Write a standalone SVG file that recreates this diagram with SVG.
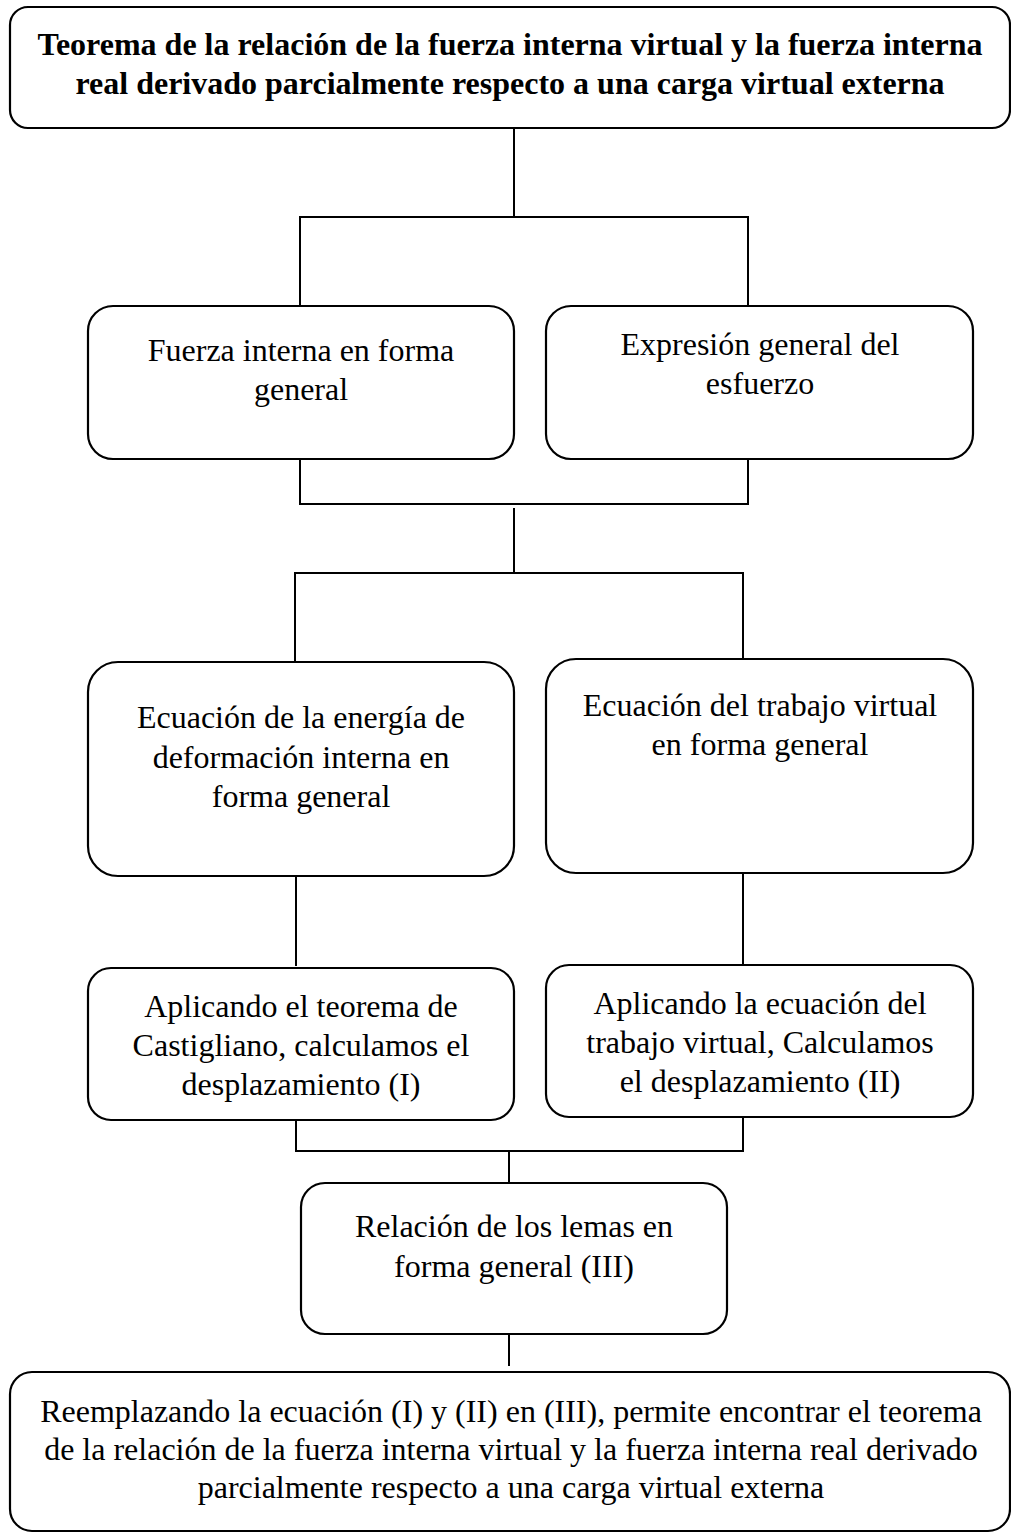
<svg xmlns="http://www.w3.org/2000/svg" width="1011" height="1533" viewBox="0 0 1011 1533">
<style>
.box{fill:#fff;stroke:#000;stroke-width:2.2}
.ln{fill:none;stroke:#000;stroke-width:2;stroke-linecap:square}
text{font-family:"Liberation Serif","Times New Roman",serif;font-size:32px;fill:#000;text-anchor:middle}
.b{font-weight:bold}
</style>
<rect width="1011" height="1533" fill="#fff"/>
<g id="connectors">
<path class="ln" d="M514 128V217M300 217H748M300 217V306M748 217V306"/>
<path class="ln" d="M300 459V504M748 459V504M300 504H748"/>
<path class="ln" d="M514 509V573M295 573H743M295 573V662M743 573V659"/>
<path class="ln" d="M296 876V965M743 873V963"/>
<path class="ln" d="M296 1120V1151M743 1117V1151M296 1151H743M509 1151V1183"/>
<path class="ln" d="M509 1334V1365"/>
</g>
<g id="title">
<rect class="box" x="10" y="7" width="1000" height="121" rx="18"/>
<text class="b" x="510" y="55">Teorema de la relación de la fuerza interna virtual y la fuerza interna</text>
<text class="b" x="510" y="94">real derivado parcialmente respecto a una carga virtual externa</text>
</g>
<g id="fuerza">
<rect class="box" x="88" y="306" width="426" height="153" rx="25"/>
<text x="301" y="361">Fuerza interna en forma</text>
<text x="301" y="400">general</text>
</g>
<g id="expresion">
<rect class="box" x="546" y="306" width="427" height="153" rx="25"/>
<text x="760" y="355">Expresión general del</text>
<text x="760" y="394">esfuerzo</text>
</g>
<g id="energia">
<rect class="box" x="88" y="662" width="426" height="214" rx="30"/>
<text x="301" y="728">Ecuación de la energía de</text>
<text x="301" y="768">deformación interna en</text>
<text x="301" y="807">forma general</text>
</g>
<g id="trabajo">
<rect class="box" x="546" y="659" width="427" height="214" rx="30"/>
<text x="760" y="716">Ecuación del trabajo virtual</text>
<text x="760" y="755">en forma general</text>
</g>
<g id="castigliano">
<rect class="box" x="88" y="968" width="426" height="152" rx="23"/>
<text x="301" y="1017">Aplicando el teorema de</text>
<text x="301" y="1056">Castigliano, calculamos el</text>
<text x="301" y="1095">desplazamiento (I)</text>
</g>
<g id="virtual">
<rect class="box" x="546" y="965" width="427" height="152" rx="23"/>
<text x="760" y="1014">Aplicando la ecuación del</text>
<text x="760" y="1053">trabajo virtual, Calculamos</text>
<text x="760" y="1092">el desplazamiento (II)</text>
</g>
<g id="relacion">
<rect class="box" x="301" y="1183" width="426" height="151" rx="24"/>
<text x="514" y="1237">Relación de los lemas en</text>
<text x="514" y="1277">forma general (III)</text>
</g>
<g id="final">
<rect class="box" x="10" y="1372" width="1000" height="159" rx="22"/>
<text x="511" y="1422">Reemplazando la ecuación (I) y (II) en (III), permite encontrar el teorema</text>
<text x="511" y="1460">de la relación de la fuerza interna virtual y la fuerza interna real derivado</text>
<text x="511" y="1498">parcialmente respecto a una carga virtual externa</text>
</g>
</svg>
